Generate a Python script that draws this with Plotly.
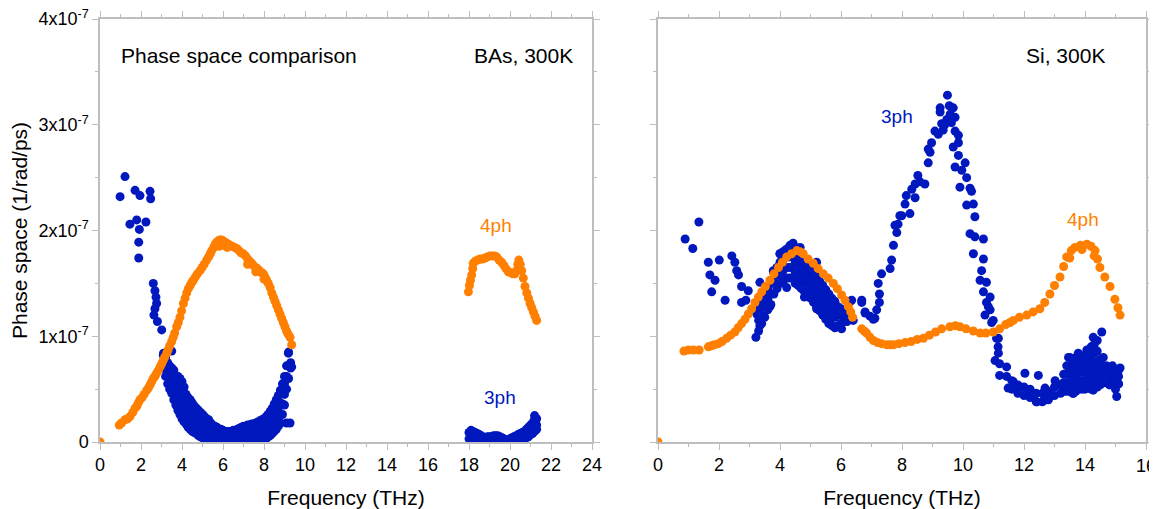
import plotly.graph_objects as go

SCALE = 1e-7          # values below are given in units of 1e-7 (1/rad/ps)
BLUE = "#0018BE"
ORANGE = "#FF7F00"

# ================= BAs, 300K (left panel) =================
# 4-phonon phase space: (frequency THz, value)
bas_4ph = [
    (0.0, 0.0),
    (0.94, 0.16), (1.05, 0.18), (1.22, 0.21), (1.35, 0.22), (1.46, 0.24), (1.6, 0.28), (1.71, 0.32),
    (1.8, 0.34), (1.87, 0.37), (1.95, 0.40), (2.05, 0.42), (2.15, 0.45), (2.28, 0.49), (2.36, 0.51),
    (2.44, 0.54), (2.52, 0.57), (2.6, 0.60), (2.68, 0.62), (2.76, 0.65), (2.85, 0.68), (2.93, 0.71),
    (3.01, 0.74), (3.08, 0.77), (3.15, 0.80), (3.25, 0.84), (3.32, 0.87), (3.4, 0.91), (3.5, 0.95),
    (3.57, 0.99), (3.64, 1.03), (3.74, 1.09), (3.82, 1.13), (3.9, 1.18), (3.98, 1.24), (4.07, 1.31),
    (4.15, 1.36), (4.23, 1.41), (4.31, 1.45), (4.4, 1.48), (4.48, 1.51), (4.55, 1.53), (4.65, 1.56),
    (4.75, 1.59), (4.88, 1.62), (4.98, 1.65), (5.08, 1.68), (5.2, 1.72), (5.3, 1.75), (5.38, 1.78),
    (5.45, 1.81), (5.55, 1.84), (5.62, 1.87), (5.69, 1.89), (5.76, 1.90), (5.84, 1.91), (5.93, 1.91),
    (6.02, 1.90), (6.1, 1.89), (6.18, 1.88), (6.26, 1.87), (6.35, 1.86), (6.45, 1.85), (6.56, 1.84),
    (6.67, 1.83), (6.78, 1.81), (6.88, 1.79), (6.99, 1.78), (7.1, 1.76), (7.2, 1.73), (7.3, 1.71),
    (7.4, 1.69), (7.48, 1.67), (7.58, 1.65), (7.68, 1.64), (7.78, 1.62), (7.88, 1.60), (7.97, 1.59),
    (8.05, 1.56), (8.13, 1.53), (8.21, 1.50), (8.3, 1.46), (8.38, 1.41), (8.46, 1.37), (8.54, 1.33),
    (8.62, 1.29), (8.7, 1.25), (8.78, 1.21), (8.86, 1.17), (8.94, 1.13), (9.02, 1.09), (9.1, 1.05),
    (9.18, 1.02), (9.27, 0.99), (9.35, 0.92),
    (5.8, 1.85), (6.0, 1.86), (6.2, 1.84), (7.2, 1.68), (7.6, 1.61), (8.0, 1.54),
    (17.97, 1.42), (18.02, 1.48), (18.07, 1.53), (18.13, 1.58), (18.18, 1.64), (18.21, 1.69),
    (18.3, 1.71), (18.42, 1.72), (18.54, 1.73), (18.66, 1.73), (18.78, 1.74), (18.9, 1.75),
    (19.02, 1.76), (19.14, 1.76), (19.25, 1.76), (19.35, 1.75), (19.47, 1.72), (19.59, 1.70),
    (19.7, 1.67), (19.8, 1.64), (19.92, 1.61), (20.03, 1.60), (20.14, 1.59), (20.24, 1.59),
    (20.32, 1.62), (20.38, 1.68), (20.43, 1.72), (20.5, 1.68), (20.57, 1.62), (20.65, 1.55),
    (20.73, 1.47), (20.82, 1.41), (20.9, 1.36), (20.98, 1.31), (21.06, 1.27), (21.14, 1.23),
    (21.22, 1.19), (21.3, 1.15),
]

# 3-phonon phase space, isolated points
bas_3ph_points = [
    (0.98, 2.32), (1.22, 2.51), (1.46, 2.06), (1.71, 2.38), (1.79, 2.10), (1.89, 1.89), (1.89, 1.74),
    (1.92, 2.01), (1.95, 2.33), (2.24, 2.08), (2.44, 2.37), (2.47, 2.30),
    (2.60, 1.50), (2.68, 1.43), (2.73, 1.37), (2.76, 1.31), (2.68, 1.26), (2.63, 1.20), (2.80, 1.14),
    (3.01, 1.06), (3.09, 0.82), (3.50, 0.86), (9.1, 0.18), (9.27, 0.18), (9.19, 0.84), (9.35, 0.71),
]
# 3-phonon phase space, dense band: (frequency, values at that frequency)
bas_3ph_band = [
    (3.1, [0.70, 0.77, 0.84]), (3.2, [0.62, 0.69, 0.76, 0.80]), (3.3, [0.55, 0.62, 0.69, 0.75]),
    (3.4, [0.50, 0.57, 0.64, 0.72]), (3.5, [0.46, 0.53, 0.60, 0.66, 0.70]),
    (3.6, [0.40, 0.47, 0.54, 0.61, 0.68]), (3.7, [0.35, 0.42, 0.49, 0.56, 0.63]),
    (3.8, [0.30, 0.37, 0.44, 0.51, 0.58, 0.62]), (3.9, [0.26, 0.33, 0.40, 0.47, 0.54, 0.60]),
    (4.0, [0.22, 0.29, 0.36, 0.43, 0.50, 0.57]), (4.1, [0.19, 0.26, 0.33, 0.40, 0.47, 0.52]),
    (4.2, [0.17, 0.24, 0.31, 0.38, 0.45]), (4.3, [0.14, 0.21, 0.28, 0.35, 0.42]),
    (4.4, [0.12, 0.19, 0.26, 0.33, 0.40]), (4.5, [0.10, 0.17, 0.24, 0.31, 0.37]),
    (4.6, [0.09, 0.16, 0.23, 0.29, 0.34]), (4.7, [0.08, 0.14, 0.20, 0.26, 0.32]),
    (4.8, [0.06, 0.12, 0.18, 0.24, 0.30]), (4.9, [0.05, 0.11, 0.17, 0.23, 0.28]),
    (5.0, [0.04, 0.10, 0.16, 0.21, 0.26]), (5.1, [0.03, 0.09, 0.15, 0.20, 0.24]),
    (5.2, [0.02, 0.08, 0.14, 0.19, 0.22]), (5.3, [0.01, 0.07, 0.13, 0.18, 0.21]),
    (5.4, [0.0, 0.06, 0.12, 0.18]), (5.5, [0.0, 0.06, 0.11, 0.16]), (5.6, [0.0, 0.05, 0.10, 0.15]),
    (5.7, [0.0, 0.05, 0.10, 0.14]), (5.8, [0.0, 0.05, 0.09, 0.12]), (5.9, [0.0, 0.05, 0.09, 0.12]),
    (6.0, [0.0, 0.04, 0.08, 0.11]), (6.1, [0.0, 0.04, 0.08, 0.10]), (6.2, [0.0, 0.04, 0.07, 0.10]),
    (6.3, [0.0, 0.04, 0.07, 0.10]), (6.4, [0.0, 0.04, 0.07, 0.10]), (6.5, [0.0, 0.04, 0.08, 0.11]),
    (6.6, [0.0, 0.04, 0.08, 0.11]), (6.7, [0.0, 0.05, 0.09, 0.12]), (6.8, [0.0, 0.05, 0.09, 0.13]),
    (6.9, [0.0, 0.05, 0.10, 0.14]), (7.0, [0.0, 0.05, 0.10, 0.15]), (7.1, [0.0, 0.05, 0.10, 0.15]),
    (7.2, [0.0, 0.05, 0.11, 0.16]), (7.3, [0.0, 0.06, 0.11, 0.16]), (7.4, [0.0, 0.06, 0.12, 0.17]),
    (7.5, [0.0, 0.06, 0.12, 0.17]), (7.6, [0.0, 0.06, 0.12, 0.18]), (7.7, [0.0, 0.07, 0.13, 0.19]),
    (7.8, [0.0, 0.07, 0.14, 0.20]), (7.9, [0.01, 0.08, 0.15, 0.21]), (8.0, [0.02, 0.09, 0.16, 0.22]),
    (8.1, [0.03, 0.10, 0.17, 0.24]), (8.2, [0.05, 0.12, 0.19, 0.26]), (8.3, [0.06, 0.13, 0.21, 0.29]),
    (8.4, [0.08, 0.15, 0.23, 0.32]), (8.5, [0.10, 0.18, 0.26, 0.36]), (8.6, [0.12, 0.20, 0.29, 0.40]),
    (8.7, [0.15, 0.24, 0.33, 0.44]), (8.8, [0.18, 0.27, 0.37, 0.49]), (8.9, [0.26, 0.36, 0.46, 0.55]),
    (9.0, [0.35, 0.45, 0.55, 0.62]), (9.1, [0.50, 0.62, 0.72]), (9.2, [0.60, 0.72, 0.85]),
    (9.3, [0.70, 0.75]),
    (18.0, [0.03, 0.09]), (18.1, [0.02, 0.08, 0.11]), (18.2, [0.02, 0.07, 0.10]),
    (18.3, [0.01, 0.06, 0.09]), (18.4, [0.0, 0.05, 0.08]), (18.5, [0.0, 0.04, 0.07]),
    (18.6, [0.0, 0.04, 0.06]), (18.7, [0.0, 0.04]), (18.8, [0.0, 0.04]), (18.9, [0.0, 0.05]),
    (19.0, [0.0, 0.05]), (19.1, [0.0, 0.05]), (19.2, [0.0, 0.06]), (19.3, [0.0, 0.06]),
    (19.4, [0.0, 0.06]), (19.5, [0.0, 0.05]), (19.6, [0.0, 0.04]), (19.7, [0.0, 0.03]),
    (19.8, [0.0, 0.02]), (19.9, [0.0, 0.02]), (20.0, [0.0, 0.03]), (20.1, [0.0, 0.04]),
    (20.2, [0.0, 0.05]), (20.3, [0.0, 0.06]), (20.4, [0.0, 0.07]), (20.5, [0.0, 0.08]),
    (20.6, [0.02, 0.09]), (20.7, [0.03, 0.10]), (20.8, [0.04, 0.12]), (20.9, [0.05, 0.14]),
    (21.0, [0.07, 0.16]), (21.1, [0.08, 0.18]), (21.2, [0.10, 0.22, 0.25]), (21.3, [0.12, 0.16, 0.22]),
]

# ================= Si, 300K (right panel) =================
si_4ph = [
    (0.0, 0.0),
    (0.85, 0.86), (1.0, 0.87), (1.16, 0.87), (1.35, 0.87), (1.65, 0.90), (1.75, 0.91), (1.85, 0.92),
    (1.98, 0.93), (2.1, 0.95), (2.25, 0.98), (2.38, 1.01), (2.52, 1.04), (2.63, 1.08), (2.74, 1.12),
    (2.85, 1.16), (2.96, 1.21), (3.07, 1.26), (3.18, 1.32), (3.29, 1.37), (3.40, 1.42), (3.52, 1.47),
    (3.67, 1.53), (3.8, 1.59), (3.95, 1.65), (4.08, 1.70), (4.22, 1.75), (4.38, 1.78), (4.55, 1.81),
    (4.66, 1.80), (4.76, 1.78), (4.92, 1.73), (5.09, 1.69), (5.25, 1.64), (5.42, 1.59), (5.58, 1.55),
    (5.75, 1.50), (5.88, 1.45), (6.02, 1.39), (6.13, 1.34), (6.24, 1.28), (6.32, 1.23), (6.38, 1.18),
    (6.68, 1.07), (6.76, 1.05), (6.84, 1.03), (6.95, 0.99), (7.06, 0.96), (7.2, 0.94), (7.33, 0.93),
    (7.5, 0.92), (7.61, 0.92), (7.72, 0.92), (7.9, 0.93), (8.1, 0.94), (8.3, 0.95), (8.5, 0.97),
    (8.7, 0.98), (8.9, 1.01), (9.1, 1.04), (9.3, 1.07), (9.57, 1.09), (9.75, 1.10), (9.9, 1.09),
    (10.1, 1.07), (10.34, 1.05), (10.56, 1.03), (10.75, 1.03), (10.99, 1.04), (11.2, 1.07),
    (11.4, 1.11), (11.54, 1.13), (11.65, 1.15), (11.85, 1.18), (12.09, 1.20), (12.3, 1.23),
    (12.52, 1.26), (12.68, 1.32), (12.85, 1.40), (13.0, 1.48), (13.18, 1.56), (13.3, 1.66),
    (13.40, 1.75), (13.55, 1.81), (13.67, 1.84), (13.85, 1.86), (14.06, 1.87), (14.2, 1.85),
    (14.33, 1.81), (14.41, 1.73), (14.49, 1.65), (14.65, 1.56), (14.82, 1.47), (14.98, 1.35),
    (15.08, 1.27), (15.15, 1.20), (13.5, 1.74), (13.9, 1.82), (14.3, 1.76),
]

si_3ph_points = [
    (0.89, 1.92), (1.14, 1.83), (1.34, 2.08), (1.65, 1.70), (1.70, 1.58), (1.76, 1.42), (1.87, 1.53),
    (2.01, 1.72), (2.20, 1.34), (2.42, 1.76), (2.52, 1.70), (2.58, 1.62), (2.64, 1.58), (2.74, 1.47),
    (2.74, 1.32), (2.88, 1.34), (2.96, 1.43), (3.24, 1.21), (3.21, 0.99), (3.34, 1.10), (3.34, 1.51),
    (3.56, 1.40), (3.67, 1.28), (3.78, 1.62), (4.0, 1.78), (4.22, 1.46), (4.33, 1.86), (4.43, 1.88),
    (4.66, 1.84), (4.55, 1.53), (4.88, 1.56), (4.8, 1.37), (5.2, 1.70), (5.2, 1.26), (5.42, 1.37),
    (5.64, 1.13), (5.75, 1.24), (6.02, 1.07), (6.07, 1.19), (6.35, 1.34), (6.4, 1.15), (6.68, 1.34),
    (6.79, 1.23), (6.95, 1.19), (7.11, 1.17), (6.3, 1.33), (6.68, 1.32), (6.79, 1.22), (7.06, 1.16),
    (7.17, 1.25), (7.26, 1.32), (7.26, 1.40), (7.22, 1.50), (7.33, 1.59), (7.61, 1.64), (7.66, 1.72),
    (7.72, 1.86), (7.83, 1.98), (7.77, 2.05), (7.87, 2.06), (7.93, 2.14), (7.99, 2.14), (8.26, 2.16),
    (8.1, 2.25), (8.14, 2.33), (8.43, 2.31), (8.32, 2.39), (8.43, 2.44), (8.59, 2.46), (8.52, 2.52),
    (8.75, 2.44), (8.86, 2.64), (8.92, 2.74), (8.86, 2.77), (8.97, 2.83), (9.08, 2.94), (9.19, 2.91),
    (9.3, 3.01), (9.25, 3.12), (9.25, 3.16), (9.47, 3.05), (9.49, 3.28), (9.68, 3.16), (9.74, 3.07),
    (9.58, 3.10), (9.74, 2.94), (9.85, 2.90), (9.85, 2.83), (9.68, 2.79), (9.85, 2.71), (10.07, 2.64),
    (9.74, 2.60), (9.96, 2.57), (10.12, 2.50), (9.9, 2.41), (10.23, 2.40), (10.28, 2.37),
    (10.12, 2.24), (10.34, 2.25), (10.39, 2.13), (10.23, 1.97), (10.39, 1.94), (10.67, 1.92),
    (10.34, 1.78), (10.67, 1.73), (10.61, 1.62), (10.56, 1.53), (10.77, 1.51), (10.67, 1.42),
    (10.77, 1.32), (10.89, 1.25), (10.72, 1.20), (10.99, 1.15), (11.1, 0.98), (11.15, 0.90),
    (9.4, 3.00), (9.55, 3.18), (9.62, 3.02), (9.35, 2.95),
    (10.89, 1.37), (10.83, 1.28), (10.94, 1.13), (11.16, 0.98), (11.16, 0.84), (11.05, 0.77),
    (11.2, 0.74), (11.43, 0.71), (11.2, 0.63), (11.43, 0.62), (11.65, 0.57), (11.48, 0.51),
    (12.03, 0.65), (12.47, 0.63), (11.87, 0.52), (12.1, 0.47), (12.25, 0.43), (12.42, 0.38),
    (12.64, 0.39), (12.85, 0.43), (12.69, 0.51), (13.02, 0.58), (13.18, 0.54), (13.51, 0.71),
    (13.46, 0.80), (13.78, 0.84), (14.06, 0.87), (14.27, 0.99), (14.55, 1.04), (14.6, 0.80),
    (14.82, 0.71), (15.15, 0.70), (15.1, 0.55), (15.04, 0.43), (13.62, 0.46), (14.27, 0.49),
]
si_3ph_band = [
    (3.3, [1.05, 1.15, 1.25]), (3.4, [1.12, 1.22, 1.32]), (3.5, [1.18, 1.28, 1.38]),
    (3.6, [1.25, 1.35, 1.45]), (3.7, [1.30, 1.40, 1.50]), (3.8, [1.40, 1.50, 1.60]),
    (3.9, [1.45, 1.55, 1.65]), (4.0, [1.50, 1.60, 1.70, 1.78]), (4.1, [1.52, 1.62, 1.72, 1.80]),
    (4.2, [1.55, 1.65, 1.75, 1.82]), (4.3, [1.55, 1.65, 1.75, 1.84]), (4.4, [1.55, 1.65, 1.75, 1.86]),
    (4.5, [1.50, 1.60, 1.70, 1.80]), (4.6, [1.48, 1.58, 1.68, 1.78]), (4.7, [1.45, 1.55, 1.65, 1.74]),
    (4.8, [1.42, 1.52, 1.62, 1.70]), (4.9, [1.40, 1.50, 1.60, 1.68]), (5.0, [1.36, 1.46, 1.56, 1.64]),
    (5.1, [1.32, 1.42, 1.52, 1.60]), (5.2, [1.28, 1.38, 1.48, 1.56]), (5.3, [1.24, 1.34, 1.44, 1.52]),
    (5.4, [1.20, 1.30, 1.40, 1.48]), (5.5, [1.16, 1.26, 1.36, 1.44]), (5.6, [1.12, 1.22, 1.32, 1.40]),
    (5.7, [1.10, 1.20, 1.30, 1.36]), (5.8, [1.08, 1.18, 1.28, 1.33]), (5.9, [1.10, 1.20, 1.28]),
    (6.0, [1.12, 1.20, 1.26]), (6.1, [1.14, 1.22]), (6.2, [1.14, 1.20]),
    (11.6, [0.50, 0.58]), (11.8, [0.46, 0.54]), (12.0, [0.44, 0.52]), (12.2, [0.42, 0.50]),
    (12.4, [0.38, 0.46]), (12.6, [0.38, 0.46]), (12.8, [0.40, 0.48]), (13.0, [0.44, 0.52]),
    (13.2, [0.46, 0.54]),
    (13.3, [0.48, 0.56, 0.64]), (13.4, [0.48, 0.56, 0.64, 0.72]), (13.5, [0.48, 0.56, 0.64, 0.72, 0.80]),
    (13.6, [0.46, 0.54, 0.62, 0.70, 0.78]), (13.7, [0.48, 0.56, 0.64, 0.72, 0.80]),
    (13.8, [0.50, 0.58, 0.66, 0.74, 0.82]), (13.9, [0.50, 0.58, 0.66, 0.74, 0.80]),
    (14.0, [0.50, 0.58, 0.66, 0.74, 0.82]), (14.1, [0.52, 0.60, 0.68, 0.76, 0.84]),
    (14.2, [0.50, 0.58, 0.66, 0.74, 0.82, 0.90]), (14.3, [0.52, 0.60, 0.68, 0.76, 0.84, 0.92]),
    (14.4, [0.52, 0.60, 0.68, 0.76, 0.86, 0.96]), (14.5, [0.54, 0.62, 0.70, 0.78]),
    (14.6, [0.56, 0.64, 0.72]), (14.7, [0.56, 0.64, 0.72]), (14.8, [0.54, 0.62, 0.70]),
    (14.9, [0.56, 0.64, 0.72]), (15.0, [0.50, 0.58, 0.66]), (15.1, [0.55, 0.62, 0.68]),
]

# Axis ticks / labels
y_tickvals = [0, 1, 2, 3, 4]
y_ticktext = ["0", "1x10<sup>-7</sup>", "2x10<sup>-7</sup>", "3x10<sup>-7</sup>", "4x10<sup>-7</sup>"]
x_left_ticks = [0, 2, 4, 6, 8, 10, 12, 14, 16, 18, 20, 22, 24]
x_right_ticks = [0, 2, 4, 6, 8, 10, 12, 14, 16]
x_right_last = 16          # edge label of the right panel, written as a text item
x_left_range = [0, 24]
x_right_range = [0, 16]

# The page body adds an 8px offset; the figure keeps the full window width.
OFF = 8
W, H = 1157, 509 - OFF
# target screen positions of the plot frames
LEFT0, LEFT1, RIGHT0, RIGHT1, TOP, BOTTOM = 100, 592, 658, 1146, 19, 442
ML, MT = LEFT0 - OFF, TOP - OFF
MR = W - (RIGHT1 - OFF)
MB = H - (BOTTOM - OFF)
PW, PH = W - ML - MR, H - MT - MB
FONT = "Liberation Sans, Arial, sans-serif"
AXC = "#BEBEBE"


def pts_xy(points, band=None):
    xs = [p[0] for p in points]
    ys = [p[1] * SCALE for p in points]
    for f, vals in (band or []):
        for v in vals:
            xs.append(f)
            ys.append(v * SCALE)
    return xs, ys


fig = go.Figure()


def add_series(x, y, color, xa, ya):
    fig.add_trace(go.Scatter(
        x=x, y=y, mode="markers", xaxis=xa, yaxis=ya,
        marker=dict(size=9, color=color, line=dict(width=0)), showlegend=False,
        hoverinfo="skip"))


add_series(*pts_xy(bas_3ph_points, bas_3ph_band), BLUE, "x", "y")
add_series(*pts_xy(bas_4ph), ORANGE, "x", "y")
add_series(*pts_xy(si_3ph_points, si_3ph_band), BLUE, "x2", "y2")
add_series(*pts_xy(si_4ph), ORANGE, "x2", "y2")


def xaxis_cfg(rng, ticks, dom, anchor, hide_last=False):
    texts = [str(t) for t in ticks]
    if hide_last:
        texts[-1] = ""
    return dict(range=rng, domain=dom, anchor=anchor, tickmode="array", tickvals=ticks,
                ticktext=texts, automargin=False,
                ticklabeloverflow="allow",
                showline=True, linecolor=AXC, linewidth=1.5, mirror="allticks",
                ticks="outside", ticklen=6, tickcolor=AXC, tickwidth=1.2,
                minor=dict(dtick=1, tick0=0, ticks="outside", ticklen=3, tickcolor=AXC, tickwidth=1.2),
                showgrid=False, zeroline=False,
                tickfont=dict(family=FONT, size=18, color="black"),
                title=dict(text="Frequency (THz)", font=dict(family=FONT, size=21, color="black"),
                           standoff=16))


def yaxis_cfg(anchor, labels):
    return dict(range=[0, 4 * SCALE], domain=[0, 1], anchor=anchor, automargin=False,
                ticklabeloverflow="allow",
                tickvals=[t * SCALE for t in y_tickvals], ticktext=y_ticktext,
                showticklabels=labels,
                showline=True, linecolor=AXC, linewidth=1.5, mirror="allticks",
                ticks="outside", ticklen=6, tickcolor=AXC, tickwidth=1.2,
                minor=dict(tickvals=[(t + 0.5) * SCALE for t in y_tickvals[:-1]], ticks="outside",
                           ticklen=3, tickcolor=AXC, tickwidth=1.2),
                showgrid=False, zeroline=False,
                tickfont=dict(family=FONT, size=18, color="black"))


fig.update_layout(
    width=W, height=H, margin=dict(l=ML, r=MR, t=MT, b=MB, autoexpand=False),
    paper_bgcolor="white", plot_bgcolor="white",
    xaxis=xaxis_cfg(x_left_range, x_left_ticks, [0, (LEFT1 - LEFT0) / PW], "y"),
    yaxis=dict(**yaxis_cfg("x", True),
               title=dict(text="Phase space (1/rad/ps)", font=dict(family=FONT, size=21, color="black"),
                          standoff=5)),
    xaxis2=xaxis_cfg(x_right_range, x_right_ticks, [(RIGHT0 - LEFT0) / PW, 1.0], "y2", hide_last=True),
    yaxis2=yaxis_cfg("x2", False),
)


def label(text, px, py, color="black", anchor="center", size=21):
    # px, py: target screen position
    fig.add_annotation(text=text, x=(px - LEFT0) / PW, y=(BOTTOM - py) / PH,
                       xref="paper", yref="paper",
                       xanchor=anchor, yanchor="middle", showarrow=False,
                       font=dict(family=FONT, size=size, color=color))


label("Phase space comparison", 119, 55, anchor="left")
label("BAs, 300K", 575, 55, anchor="right")
label("Si, 300K", 1107, 55, anchor="right")
label("4ph", 496, 225, color=ORANGE, size=19)
label("3ph", 500, 397, color=BLUE, size=19)
label("3ph", 897, 116, color=BLUE, size=19)
label("4ph", 1083, 219, color=ORANGE, size=19)

# last tick label of the right panel, placed on the x2 scale at the tick-label row
fig.add_annotation(text=str(x_right_last), x=x_right_last, xref="x2",
                   y=(BOTTOM - 466) / PH, yref="paper", xanchor="center", yanchor="middle",
                   showarrow=False, font=dict(family=FONT, size=18, color="black"))

fig.write_html("out.html")
